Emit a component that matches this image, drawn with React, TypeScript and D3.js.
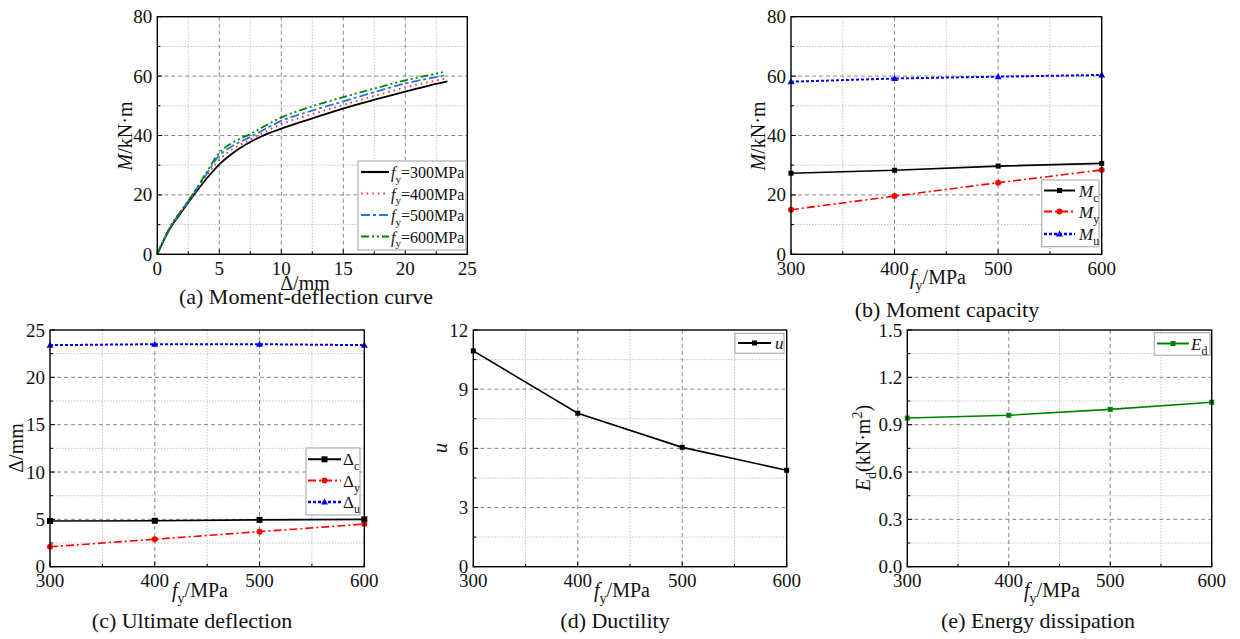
import React from 'react';
import * as d3 from 'd3';

type Pt = [number, number];
type Seg = { t: string; it?: boolean; sub?: boolean; sup?: boolean };

// steel strength levels
const fyLevels = [300, 400, 500, 600];

// (a) moment-deflection curves, [delta mm, M kN.m]
const curveFy300: Pt[] = [[0, 0], [0.5, 4.5], [1, 8.5], [2, 14.5], [3, 20.3], [4, 25.6], [5, 30.3], [6, 33.8], [7, 36.6], [8, 38.9], [9, 40.8], [10, 42.3], [12, 45.1], [14, 47.8], [16, 50.3], [18, 52.6], [20, 54.8], [22, 56.9], [23.4, 58.2]];
const curveFy400: Pt[] = [[0, 0], [0.5, 4.6], [1, 8.7], [2, 14.8], [3, 20.6], [4, 26.5], [5, 31.8], [6, 35.2], [7.5, 38.6], [10, 43.8], [12.5, 47.2], [15, 50.3], [17.5, 53.3], [20, 56.2], [22, 58.1], [23.2, 59.1]];
const curveFy500: Pt[] = [[0, 0], [0.5, 4.7], [1, 8.8], [2, 15], [3, 20.9], [4, 27.2], [5, 33.3], [6, 36.3], [7.5, 39.5], [10, 44.9], [12.5, 48.4], [15, 51.5], [17.5, 54.6], [20, 57.5], [22, 59.3], [23.1, 60.1]];
const curveFy600: Pt[] = [[0, 0], [0.5, 4.7], [1, 8.9], [2, 15.1], [3, 21.1], [4, 27.8], [5, 34.2], [6, 37.4], [7.5, 40.5], [10, 46.1], [12.5, 49.8], [15, 52.9], [17.5, 55.8], [20, 58.6], [22, 60.4], [23, 61.3]];

// (b) moment capacity
const momentMc = [27.3, 28.3, 29.7, 30.6];
const momentMy = [15.0, 19.6, 24.1, 28.4];
const momentMu = [58.1, 59.2, 59.8, 60.4];

// (c) deflection
const deflDc = [4.83, 4.85, 4.95, 5.0];
const deflDy = [2.1, 2.9, 3.7, 4.5];
const deflDu = [23.4, 23.5, 23.5, 23.4];

// (d) ductility
const ductilityU = [10.94, 7.78, 6.05, 4.89];

// (e) energy dissipation
const energyEd = [0.942, 0.96, 0.997, 1.042];

// tick labels
const deltaTicks = [0, 5, 10, 15, 20, 25];
const momentTicks = [0, 20, 40, 60, 80];
const deflTicks = [0, 5, 10, 15, 20, 25];
const ductTicks = [0, 3, 6, 9, 12];
const energyTicks = [0, 0.3, 0.6, 0.9, 1.2, 1.5];

const FONT = '"Liberation Serif", "Times New Roman", serif';
const RED = '#ff0000';
const BLUE = '#0000ff';
const GREEN = '#008000';
const TICK_FS = 19;
const AXIS_FS = 20;
const CAP_FS = 22;

const zip = (xs: number[], ys: number[]): Pt[] => xs.map((v, i) => [v, ys[i]]);
const mids = (t: number[]) => t.slice(1).map((v, i) => (v + t[i]) / 2);

function Rich({ segs, size }: { segs: Seg[]; size: number }) {
  let shift = 0;
  return (
    <>
      {segs.map((s, i) => {
        const target = s.sub ? size * 0.3 : s.sup ? -size * 0.4 : 0;
        const dy = target - shift;
        shift = target;
        return (
          <tspan key={i} dy={dy} fontStyle={s.it ? 'italic' : 'normal'} fontSize={s.sub || s.sup ? size * 0.7 : size}>
            {s.t}
          </tspan>
        );
      })}
    </>
  );
}

function Marker({ kind, x, y, color, s }: { kind?: string; x: number; y: number; color: string; s: number }) {
  if (kind === 'square') return <rect x={x - s / 2} y={y - s / 2} width={s} height={s} fill={color} />;
  if (kind === 'circle') return <circle cx={x} cy={y} r={s / 2 + 0.5} fill={color} />;
  if (kind === 'triangle') {
    const h = s * 0.95;
    return <path d={`M${x},${y - h * 0.6}L${x + s / 2 + 0.5},${y + h * 0.45}L${x - s / 2 - 0.5},${y + h * 0.45}Z`} fill={color} />;
  }
  return null;
}

interface Series {
  pts: Pt[];
  color: string;
  dash?: string;
  width?: number;
  marker?: string;
  ms?: number;
  smooth?: boolean;
  label: Seg[];
}

interface PanelProps {
  left: number; right: number; top: number; bottom: number;
  xDomain: [number, number]; xTicks: number[];
  yDomain: [number, number]; yTicks: number[];
  yFmt?: (v: number) => string;
  series: Series[];
  legend: { x0: number; y0: number; x1: number; y1: number; rows: number[]; sx0: number; sx1: number; tx: number; fs: number };
  xLabel: { segs: Seg[]; x: number; y: number };
  yLabel: { segs: Seg[]; x: number; y: number };
  title: { text: string; x: number; y: number };
}

function Panel(p: PanelProps) {
  const x = d3.scaleLinear().domain(p.xDomain).range([p.left, p.right]);
  const y = d3.scaleLinear().domain(p.yDomain).range([p.bottom, p.top]);
  const xMinor = mids(p.xTicks);
  const yMinor = mids(p.yTicks);
  const fmt = p.yFmt || ((v: number) => String(v));
  const lg = p.legend;
  return (
    <g fontFamily={FONT}>
      {/* minor grid */}
      {xMinor.map((v) => (
        <line key={'xm' + v} x1={x(v)} x2={x(v)} y1={p.top} y2={p.bottom} stroke="#b4b4b4" strokeWidth={0.8} strokeDasharray="1.5,1.5" />
      ))}
      {yMinor.map((v) => (
        <line key={'ym' + v} x1={p.left} x2={p.right} y1={y(v)} y2={y(v)} stroke="#b4b4b4" strokeWidth={0.8} strokeDasharray="1.5,1.5" />
      ))}
      {/* major grid */}
      {p.xTicks.slice(1, -1).map((v) => (
        <line key={'xg' + v} x1={x(v)} x2={x(v)} y1={p.top} y2={p.bottom} stroke="#7a7a7a" strokeWidth={0.9} strokeDasharray="4,3" />
      ))}
      {p.yTicks.slice(1, -1).map((v) => (
        <line key={'yg' + v} x1={p.left} x2={p.right} y1={y(v)} y2={y(v)} stroke="#7a7a7a" strokeWidth={0.9} strokeDasharray="4,3" />
      ))}
      {/* series */}
      {p.series.map((s, i) => {
        const line = d3.line<Pt>().x((d) => x(d[0])).y((d) => y(d[1]));
        if (s.smooth) line.curve(d3.curveMonotoneX);
        return (
          <g key={'s' + i}>
            <path d={line(s.pts) || ''} fill="none" stroke={s.color} strokeWidth={s.width || 1.6} strokeDasharray={s.dash} />
            {s.marker && s.pts.map((d, j) => <Marker key={j} kind={s.marker} x={x(d[0])} y={y(d[1])} color={s.color} s={s.ms || 5} />)}
          </g>
        );
      })}
      {/* frame */}
      <rect x={p.left} y={p.top} width={p.right - p.left} height={p.bottom - p.top} fill="none" stroke="#000" strokeWidth={1.4} />
      {/* ticks */}
      {p.xTicks.map((v) => <line key={'xt' + v} x1={x(v)} x2={x(v)} y1={p.bottom} y2={p.bottom - 5} stroke="#000" />)}
      {xMinor.map((v) => <line key={'xtm' + v} x1={x(v)} x2={x(v)} y1={p.bottom} y2={p.bottom - 3} stroke="#000" />)}
      {p.yTicks.map((v) => <line key={'yt' + v} x1={p.left} x2={p.left + 5} y1={y(v)} y2={y(v)} stroke="#000" />)}
      {yMinor.map((v) => <line key={'ytm' + v} x1={p.left} x2={p.left + 3} y1={y(v)} y2={y(v)} stroke="#000" />)}
      {/* tick labels */}
      {p.xTicks.map((v) => (
        <text key={'xl' + v} x={x(v)} y={p.bottom + 20.5} textAnchor="middle" fontSize={TICK_FS} fill="#111">{v}</text>
      ))}
      {p.yTicks.map((v) => (
        <text key={'yl' + v} x={p.left - 5} y={y(v) + 6.5} textAnchor="end" fontSize={TICK_FS} fill="#111">{fmt(v)}</text>
      ))}
      {/* axis titles */}
      <text x={p.xLabel.x} y={p.xLabel.y} textAnchor="middle" fontSize={AXIS_FS} fill="#111">
        <Rich segs={p.xLabel.segs} size={AXIS_FS} />
      </text>
      <text transform={`translate(${p.yLabel.x},${p.yLabel.y}) rotate(-90)`} textAnchor="middle" fontSize={AXIS_FS} fill="#111">
        <Rich segs={p.yLabel.segs} size={AXIS_FS} />
      </text>
      {/* legend */}
      <rect x={lg.x0} y={lg.y0} width={lg.x1 - lg.x0} height={lg.y1 - lg.y0} fill="#fff" stroke="#b0b0b0" strokeWidth={1.2} />
      {p.series.map((s, i) => {
        const ry = lg.rows[i];
        return (
          <g key={'lg' + i}>
            <line x1={lg.sx0} x2={lg.sx1} y1={ry} y2={ry} stroke={s.color} strokeWidth={(s.width || 1.6) + 0.4} strokeDasharray={s.dash} />
            {s.marker && <Marker kind={s.marker} x={(lg.sx0 + lg.sx1) / 2} y={ry} color={s.color} s={s.ms || 5} />}
            <text x={lg.tx} y={ry + 6} fontSize={lg.fs} fill="#111">
              <Rich segs={s.label} size={lg.fs} />
            </text>
          </g>
        );
      })}
      {/* caption */}
      <text x={p.title.x} y={p.title.y} textAnchor="middle" fontSize={CAP_FS} fill="#111">{p.title.text}</text>
    </g>
  );
}

const fyLabel = (v: number): Seg[] => [{ t: 'f', it: true }, { t: 'y', sub: true }, { t: `=${v}MPa` }];
const fyAxis: Seg[] = [{ t: 'f', it: true }, { t: 'y', sub: true }, { t: '/MPa' }];
const momentAxis: Seg[] = [{ t: 'M', it: true }, { t: '/kN·m' }];

export default function App() {
  return (
    <div style={{ position: 'absolute', left: 0, top: 0 }}>
      <svg width={1240} height={639} style={{ display: 'block', background: '#fff' }}>
        <Panel
          left={157.3} right={467.3} top={16.7} bottom={254.3}
          xDomain={[0, 25]} xTicks={deltaTicks} yDomain={[0, 80]} yTicks={momentTicks}
          series={[
            { pts: curveFy300, color: '#000', width: 1.8, smooth: true, label: fyLabel(300) },
            { pts: curveFy400, color: '#ff3030', width: 1.8, dash: '1.6,4', smooth: true, label: fyLabel(400) },
            { pts: curveFy500, color: '#1f78e6', width: 1.8, dash: '9,3,3,3', smooth: true, label: fyLabel(500) },
            { pts: curveFy600, color: GREEN, width: 1.8, dash: '8,3,2,3,2,3', smooth: true, label: fyLabel(600) },
          ]}
          legend={{ x0: 358, y0: 161, x1: 466, y1: 250, rows: [172, 193.5, 215, 236.5], sx0: 361, sx1: 389, tx: 391, fs: 16 }}
          xLabel={{ segs: [{ t: 'Δ/mm' }], x: 305, y: 290 }}
          yLabel={{ segs: momentAxis, x: 132, y: 136 }}
          title={{ text: '(a) Moment-deflection curve', x: 306, y: 304 }}
        />
        <Panel
          left={791} right={1101.7} top={16.7} bottom={254.3}
          xDomain={[300, 600]} xTicks={fyLevels} yDomain={[0, 80]} yTicks={momentTicks}
          series={[
            { pts: zip(fyLevels, momentMc), color: '#000', marker: 'square', ms: 5, label: [{ t: 'M', it: true }, { t: 'c', sub: true }] },
            { pts: zip(fyLevels, momentMy), color: RED, dash: '8,3,2,3', marker: 'circle', ms: 5, label: [{ t: 'M', it: true }, { t: 'y', sub: true }] },
            { pts: zip(fyLevels, momentMu), color: BLUE, dash: '3,2', width: 2, marker: 'triangle', ms: 6, label: [{ t: 'M', it: true }, { t: 'u', sub: true }] },
          ]}
          legend={{ x0: 1041.7, y0: 180, x1: 1099, y1: 246.7, rows: [190.5, 211.5, 234], sx0: 1044, sx1: 1075, tx: 1079, fs: 17 }}
          xLabel={{ segs: fyAxis, x: 938, y: 284 }}
          yLabel={{ segs: momentAxis, x: 765, y: 136 }}
          title={{ text: '(b) Moment capacity', x: 947, y: 317 }}
        />
        <Panel
          left={50} right={364.3} top={330} bottom={566.7}
          xDomain={[300, 600]} xTicks={fyLevels} yDomain={[0, 25]} yTicks={deflTicks}
          series={[
            { pts: zip(fyLevels, deflDc), color: '#000', marker: 'square', ms: 6, label: [{ t: 'Δ' }, { t: 'c', sub: true }] },
            { pts: zip(fyLevels, deflDy), color: RED, dash: '8,3,2,3', marker: 'circle', ms: 5, label: [{ t: 'Δ' }, { t: 'y', sub: true }] },
            { pts: zip(fyLevels, deflDu), color: BLUE, dash: '3,2', width: 2, marker: 'triangle', ms: 6, label: [{ t: 'Δ' }, { t: 'u', sub: true }] },
          ]}
          legend={{ x0: 306, y0: 448, x1: 360, y1: 515, rows: [459.3, 480.5, 502], sx0: 308, sx1: 341, tx: 343, fs: 17 }}
          xLabel={{ segs: fyAxis, x: 200, y: 597 }}
          yLabel={{ segs: [{ t: 'Δ/mm' }], x: 23, y: 448 }}
          title={{ text: '(c) Ultimate deflection', x: 192, y: 628 }}
        />
        <Panel
          left={473.3} right={786.7} top={330} bottom={566.7}
          xDomain={[300, 600]} xTicks={fyLevels} yDomain={[0, 12]} yTicks={ductTicks}
          series={[{ pts: zip(fyLevels, ductilityU), color: '#000', marker: 'square', ms: 5, label: [{ t: 'u', it: true }] }]}
          legend={{ x0: 735, y0: 333.3, x1: 784, y1: 353.3, rows: [343], sx0: 738, sx1: 771, tx: 775, fs: 17 }}
          xLabel={{ segs: fyAxis, x: 622, y: 597 }}
          yLabel={{ segs: [{ t: 'u', it: true }], x: 447, y: 448 }}
          title={{ text: '(d) Ductility', x: 615, y: 628 }}
        />
        <Panel
          left={907.3} right={1211.7} top={330} bottom={566.7}
          xDomain={[300, 600]} xTicks={fyLevels} yDomain={[0, 1.5]} yTicks={energyTicks}
          yFmt={(v) => v.toFixed(1)}
          series={[{ pts: zip(fyLevels, energyEd), color: GREEN, marker: 'square', ms: 5, label: [{ t: 'E', it: true }, { t: 'd', sub: true }] }]}
          legend={{ x0: 1154.3, y0: 332.7, x1: 1210, y1: 355.3, rows: [343.5], sx0: 1157, sx1: 1189, tx: 1191, fs: 17 }}
          xLabel={{ segs: fyAxis, x: 1052, y: 597 }}
          yLabel={{ segs: [{ t: 'E', it: true }, { t: 'd', sub: true }, { t: '(kN·m' }, { t: '2', sup: true }, { t: ')' }], x: 870, y: 448 }}
          title={{ text: '(e) Energy dissipation', x: 1038, y: 628 }}
        />
      </svg>
    </div>
  );
}
